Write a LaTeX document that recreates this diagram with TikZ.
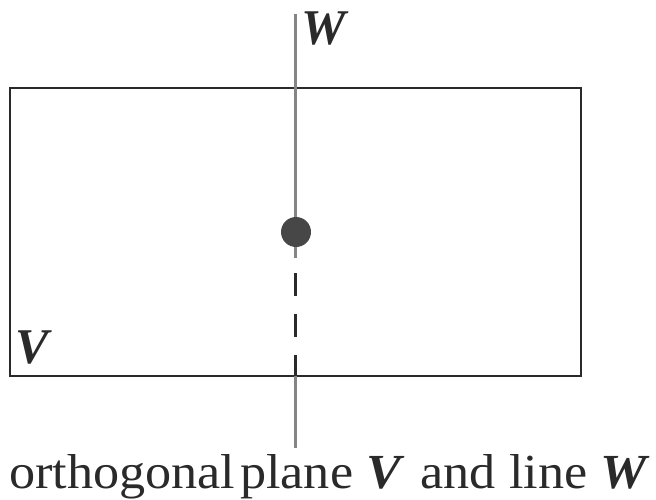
\documentclass[tikz,border=0pt]{standalone}
\usepackage{fontspec}
\setmainfont{Liberation Serif}
\newfontfamily\capfont[FakeStretch=1.065]{Liberation Serif}
\definecolor{framec}{HTML}{2A2A2A}
\definecolor{linec}{HTML}{858585}
\definecolor{dotc}{HTML}{474747}
\begin{document}
\begin{tikzpicture}[x=1pt,y=-1pt,
  lbl/.style={inner sep=0pt, anchor=base west, text=framec, font=\fontsize{50}{60}\selectfont\bfseries\itshape},
  captext/.style={inner sep=0pt, anchor=base west, text=framec, font=\capfont\fontsize{49}{58}\selectfont},
  planebox/.style={draw=framec, line width=2pt, minimum width=571pt, minimum height=288pt, inner sep=0pt},
  wline/.style={draw=linec, line width=3pt},
  hidden/.style={draw=framec, line width=2.2pt, dash pattern=on 23pt off 18pt}]
\useasboundingbox (0,0) rectangle (656,499);
\coordinate (wtop) at (295.5,14);
\coordinate (wbot) at (295.5,448);
\coordinate (wsolidend) at (295.5,258);
\coordinate (dashstart) at (295.5,273);
\node[planebox] (plane) at (295.5,232) {};
\coordinate (planebot) at (295.5,376);
\draw[wline] (wtop) -- (wsolidend);
\draw[wline] (planebot) -- (wbot);
\draw[hidden] (dashstart) -- (planebot);
\node[circle, fill=dotc, minimum size=30pt, inner sep=0pt] (pt) at (296,232) {};
\node[lbl] (wlab) at (301,44) {W};
\node[lbl] (vlab) at (15,363) {V};
\node[captext] (caption) at (9,488) {orthogonal\hspace{0.1em}plane {\bfseries\itshape V}\hspace{0.4em}and line {\bfseries\itshape W}};
\end{tikzpicture}
\end{document}
